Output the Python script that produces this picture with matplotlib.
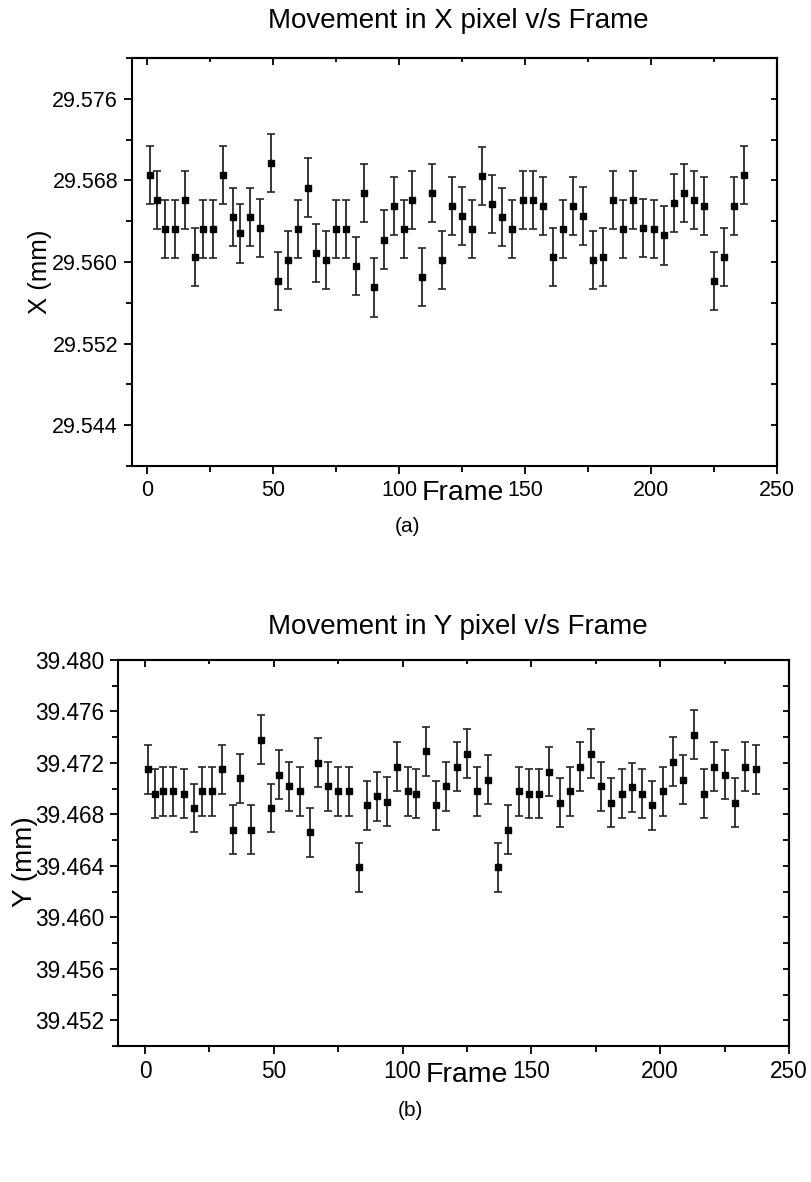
import matplotlib
matplotlib.use("Agg")
import matplotlib.pyplot as plt
from matplotlib.ticker import MultipleLocator, FormatStrFormatter

plt.rcParams['font.family'] = ['Liberation Sans', 'DejaVu Sans']

# frame numbers shared by both measurements
frames = [1, 4, 7, 11, 15, 19, 22, 26, 30, 34, 37, 41, 45, 49, 52, 56, 60, 64,
          67, 71, 75, 79, 83, 86, 90, 94, 98, 102, 105, 109, 113, 117, 121,
          125, 129, 133, 137, 141, 145, 149, 153, 157, 161, 165, 169, 173, 177,
          181, 185, 189, 193, 197, 201, 205, 209, 213, 217, 221, 225, 229, 233,
          237]

# X position (mm) per frame
x_mm = [29.5685, 29.5661, 29.5632, 29.5632, 29.5661, 29.5605, 29.5632, 29.5632,
        29.5685, 29.5644, 29.5628, 29.5644, 29.5633, 29.5697, 29.5581, 29.5602,
        29.5632, 29.5673, 29.5609, 29.5602, 29.5632, 29.5632, 29.5596, 29.5668,
        29.5575, 29.5622, 29.5655, 29.5632, 29.5661, 29.5585, 29.5668, 29.5602,
        29.5655, 29.5645, 29.5632, 29.5684, 29.5657, 29.5644, 29.5632, 29.5661,
        29.5661, 29.5655, 29.5605, 29.5632, 29.5655, 29.5645, 29.5602, 29.5605,
        29.5661, 29.5632, 29.5661, 29.5633, 29.5632, 29.5626, 29.5658, 29.5668,
        29.5661, 29.5655, 29.5581, 29.5605, 29.5655, 29.5685]
x_err = [0.00285] * len(x_mm)

# Y position (mm) per frame
y_mm = [39.4715, 39.4696, 39.4698, 39.4698, 39.4696, 39.4685, 39.4698, 39.4698,
        39.4715, 39.4668, 39.4708, 39.4668, 39.4738, 39.4685, 39.4711, 39.4702,
        39.4698, 39.4666, 39.4720, 39.4702, 39.4698, 39.4698, 39.4639, 39.4687,
        39.4694, 39.4690, 39.4717, 39.4698, 39.4696, 39.4729, 39.4687, 39.4702,
        39.4717, 39.4727, 39.4698, 39.4707, 39.4639, 39.4668, 39.4698, 39.4696,
        39.4696, 39.4713, 39.4689, 39.4698, 39.4717, 39.4727, 39.4702, 39.4689,
        39.4696, 39.4701, 39.4696, 39.4687, 39.4698, 39.4721, 39.4707, 39.4742,
        39.4696, 39.4717, 39.4711, 39.4689, 39.4717, 39.4715]
y_err = [0.0019] * len(y_mm)

W, H = 811, 1182
fig = plt.figure(figsize=(W / 100, H / 100), dpi=100)


def px_box(l, t, r, b):
    return [l / W, 1 - b / H, (r - l) / W, (b - t) / H]


def style_axes(ax, xminor, ymajor, yminor, labelsize):
    for s in ax.spines.values():
        s.set_linewidth(1.5)
    ax.xaxis.set_major_locator(MultipleLocator(50))
    ax.xaxis.set_minor_locator(MultipleLocator(xminor))
    ax.yaxis.set_major_locator(MultipleLocator(ymajor))
    ax.yaxis.set_minor_locator(MultipleLocator(yminor))
    ax.yaxis.set_major_formatter(FormatStrFormatter('%.3f'))
    ax.tick_params(axis='both', which='major', direction='out', length=6,
                   width=1.3, labelsize=labelsize, pad=4)
    ax.tick_params(axis='both', which='minor', direction='out', length=4,
                   width=1.3)
    # mirrored ticks on top and right point inward
    sx = ax.secondary_xaxis('top')
    sx.xaxis.set_major_locator(MultipleLocator(50))
    sx.xaxis.set_minor_locator(MultipleLocator(xminor))
    sx.tick_params(which='major', direction='in', length=5, width=1.3,
                   labeltop=False)
    sx.tick_params(which='minor', direction='in', length=3, width=1.3)
    sx.spines['top'].set_linewidth(1.5)
    sy = ax.secondary_yaxis('right')
    sy.yaxis.set_major_locator(MultipleLocator(yminor))
    sy.yaxis.set_minor_locator(MultipleLocator(yminor))
    sy.tick_params(which='major', direction='in', length=4, width=1.3,
                   labelright=False)
    sy.tick_params(which='minor', length=0)
    sy.spines['right'].set_linewidth(1.5)


def draw_series(ax, y, err):
    ax.errorbar(frames, y, yerr=err, fmt='s', color='black', ms=4.2,
                ecolor='#262626', elinewidth=1.3, capsize=2.6, capthick=1.2)


# (a) X movement
ax1 = fig.add_axes(px_box(132, 58, 777, 466))
draw_series(ax1, x_mm, x_err)
ax1.set_xlim(-6, 250)
ax1.set_ylim(29.540, 29.580)
style_axes(ax1, 25, 0.008, 0.004, 15.5)

# (b) Y movement
ax2 = fig.add_axes(px_box(118, 660, 789, 1046))
draw_series(ax2, y_mm, y_err)
ax2.set_xlim(-10.5, 250)
ax2.set_ylim(39.450, 39.480)
style_axes(ax2, 25, 0.004, 0.002, 16.3)

# titles and axis labels
fig.text(458 / W, 1 - 21 / H, 'Movement in X pixel v/s Frame', ha='center',
         va='center', fontsize=20)
fig.text(458 / W, 1 - 627 / H, 'Movement in Y pixel v/s Frame', ha='center',
         va='center', fontsize=20)
fig.text(463 / W, 1 - 493 / H, 'Frame', ha='center', va='center', fontsize=20.5)
fig.text(467 / W, 1 - 1075 / H, 'Frame', ha='center', va='center', fontsize=20.5)
fig.text(40 / W, 1 - 272 / H, 'X (mm)', ha='center', va='center',
         rotation=90, fontsize=18.5)
fig.text(25 / W, 1 - 862 / H, 'Y (mm)', ha='center', va='center',
         rotation=90, fontsize=20)
fig.text(407 / W, 1 - 526 / H, '(a)', ha='center', va='center', fontsize=15)
fig.text(410 / W, 1 - 1110 / H, '(b)', ha='center', va='center', fontsize=15)

fig.savefig('out.png', dpi=100, facecolor='white')
